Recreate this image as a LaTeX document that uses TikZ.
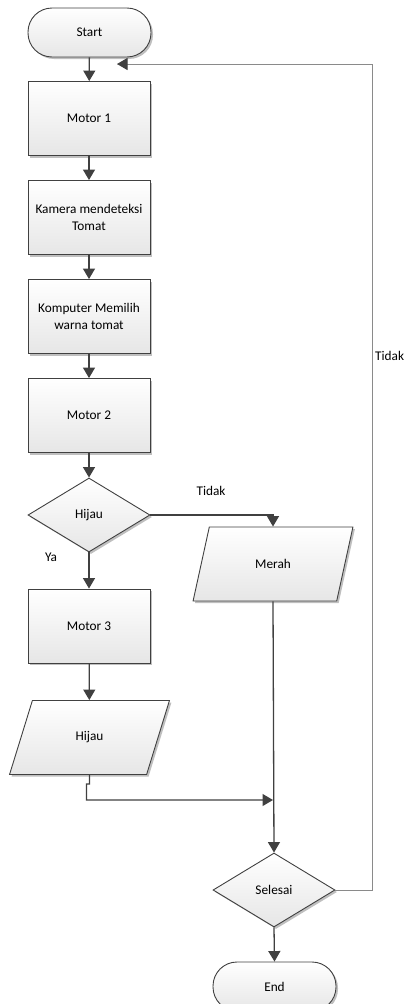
\documentclass[tikz,border=0pt]{standalone}
\usepackage{fontspec}
\setmainfont{Carlito}
\usetikzlibrary{shapes.geometric,arrows.meta,shadows}
\definecolor{linec}{HTML}{404040}
\definecolor{loopc}{HTML}{8A8A8A}
\definecolor{fillc}{HTML}{E6E6E6}
\begin{document}
\begin{tikzpicture}[x=1pt,y=-1pt,
  base/.style={draw=linec, line width=0.9pt, top color=white, bottom color=fillc,
    drop shadow={shadow xshift=2pt, shadow yshift=-2pt, fill=black, opacity=.25},
    font=\fontsize{13.3}{16.5}\selectfont, align=center, inner sep=0pt},
  procbox/.style={base, rectangle, minimum width=122pt, minimum height=74pt},
  term/.style={base, rectangle, rounded corners=24pt, minimum width=123pt, minimum height=49pt},
  decision/.style={base, diamond, aspect=1.65, minimum width=122pt, minimum height=74pt},
  io/.style={base, trapezium, trapezium left angle=64, trapezium right angle=116,
    trapezium stretches=true, minimum width=160pt, minimum height=74pt},
  arr/.style={-{Triangle[length=10.5pt,width=12pt]}, draw=linec, line width=1.3pt},
  lbl/.style={font=\fontsize{13.3}{16.5}\selectfont, inner sep=0pt}]
\useasboundingbox (0,0) rectangle (404,1004);

\node[term] (start) at (89.5,32.5) {Start};
\node[procbox] (m1) at (89,118.5) {Motor 1};
\node[procbox] (kam) at (89,217.5) {Kamera mendeteksi\\Tomat};
\node[procbox] (kom) at (89,316.5) {Komputer Memilih\\warna tomat};
\node[procbox] (m2) at (89,415.5) {Motor 2};
\node[decision] (d1) at (89,515) {Hijau};
\node[io] (merah) at (273,564) {Merah};
\node[procbox] (m3) at (89,626) {Motor 3};
\node[io] (hijau) at (89.5,737.5) {Hijau};
\node[decision] (sel) at (274,890) {Selesai};
\node[term] (end) at (274.5,986.5) {End};

\node[lbl] (t1) at (211,491) {Tidak};
\node[lbl] (ya) at (51,557) {Ya};
\node[lbl, anchor=west] (t2) at (375,356) {Tidak};

\coordinate (j) at (273,800);
\coordinate (lr) at (372,890);
\coordinate (lt) at (372,64);
\coordinate (le) at (117,64);

\draw[arr] (start) -- (m1);
\draw[arr] (m1) -- (kam);
\draw[arr] (kam) -- (kom);
\draw[arr] (kom) -- (m2);
\draw[arr] (m2) -- (d1);
\draw[arr] (d1.south) -- (m3);
\draw[arr] (m3) -- (hijau);
\draw[arr] (d1.east) -| (merah.north);
\draw[arr] (merah.south) -- (sel.north);
\draw[arr] (hijau.south) -- ++(0,9) -- ++(-3,0) -- ++(0,16) -- (j);
\draw[arr] (sel.south) -- (end.north);
\draw[draw=black!15, line width=1pt, shift={(1.5pt,-1.5pt)}] (sel.east) -- (lr) -- (lt) -- (le);
\draw[-{Triangle[length=10.5pt,width=12pt,color=linec]}, draw=loopc, line width=1pt] (sel.east) -- (lr) -- (lt) -- (le);
\end{tikzpicture}
\end{document}
